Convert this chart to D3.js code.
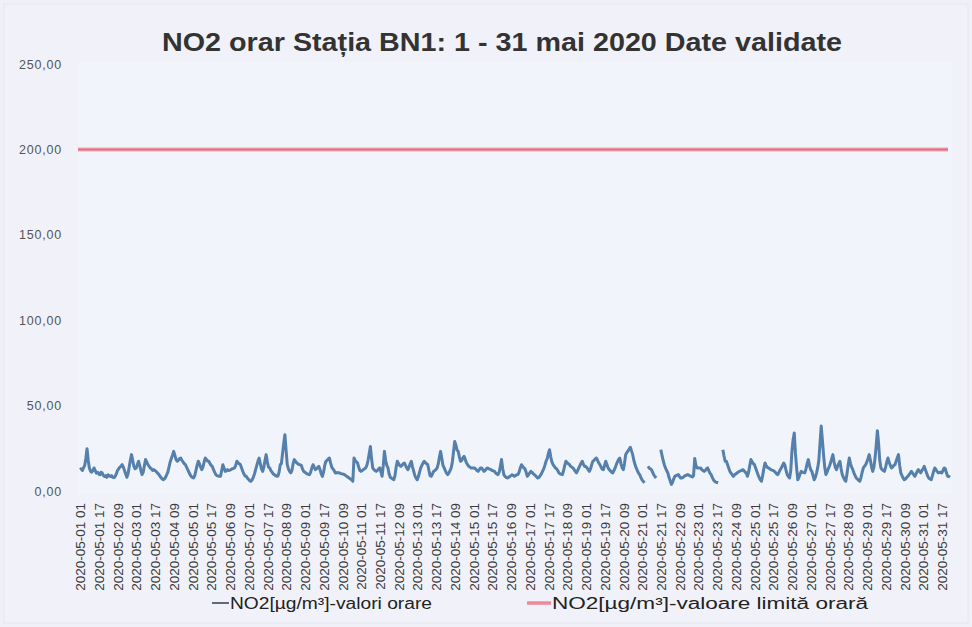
<!DOCTYPE html>
<html><head><meta charset="utf-8">
<script src="https://cdn.jsdelivr.net/npm/d3@7"></script>
<style>body{margin:0;background:#eff0f8;} svg{display:block}</style>
</head><body><svg id="c" width="972" height="627"></svg>
<script>
const chartTitle = "NO2 orar Stația BN1: 1 - 31 mai 2020 Date validate";
const seriesNames = ["NO2[µg/m³]-valori orare", "NO2[µg/m³]-valoare limită orară"];
const limitValue = 200;
const yTicks = [0, 50, 100, 150, 200, 250];
const tickLabels = [
"2020-05-01 01","2020-05-01 17","2020-05-02 09","2020-05-03 01","2020-05-03 17","2020-05-04 09",
"2020-05-05 01","2020-05-05 17","2020-05-06 09","2020-05-07 01","2020-05-07 17","2020-05-08 09",
"2020-05-09 01","2020-05-09 17","2020-05-10 09","2020-05-11 01","2020-05-11 17","2020-05-12 09",
"2020-05-13 01","2020-05-13 17","2020-05-14 09","2020-05-15 01","2020-05-15 17","2020-05-16 09",
"2020-05-17 01","2020-05-17 17","2020-05-18 09","2020-05-19 01","2020-05-19 17","2020-05-20 09",
"2020-05-21 01","2020-05-21 17","2020-05-22 09","2020-05-23 01","2020-05-23 17","2020-05-24 09",
"2020-05-25 01","2020-05-25 17","2020-05-26 09","2020-05-27 01","2020-05-27 17","2020-05-28 09",
"2020-05-29 01","2020-05-29 17","2020-05-30 09","2020-05-31 01","2020-05-31 17"];
const tickEvery = 16;
// hourly NO2 values, one row per day (hours 01..24), null = missing
const no2Values = [
12.5,13.0,12.0,13.5,15.0,19.0,24.8,18.0,13.5,11.5,11.0,12.0,13.5,12.0,10.5,11.0,10.0,9.5,11.0,10.5,9.0,8.5,9.0,8.0,
9.5,9.0,8.5,9.0,8.0,7.8,8.5,10.0,12.0,13.0,14.0,14.5,15.4,14.0,12.0,10.0,8.0,10.0,14.0,18.0,21.3,18.0,14.5,13.0,
13.5,15.5,17.4,15.0,12.0,9.6,11.0,15.0,18.4,17.0,15.5,14.5,13.5,13.0,12.0,12.5,12.0,11.5,10.6,10.0,9.0,8.0,7.2,6.6,
7.0,8.0,9.5,11.0,14.0,17.0,19.0,21.0,23.2,21.0,18.5,17.4,18.0,19.0,19.3,18.0,17.0,16.0,15.4,14.0,12.5,11.0,9.6,8.5,
8.0,7.6,9.0,12.0,15.0,17.4,16.0,14.0,12.5,14.0,17.0,19.3,18.5,17.5,17.4,16.0,15.0,14.4,12.5,11.0,9.6,9.0,8.8,8.6,
8.6,12.0,15.4,13.5,11.5,11.8,12.5,12.0,12.2,12.5,13.0,13.2,13.5,15.0,17.4,16.5,16.0,15.4,13.5,11.5,10.0,8.8,8.6,7.5,
6.8,6.0,5.7,6.5,8.0,10.0,12.5,15.0,17.5,19.3,16.0,13.0,11.5,14.0,18.0,21.3,17.0,14.0,13.5,12.0,11.0,10.0,9.6,9.0,
8.6,8.8,11.0,15.4,16.0,22.0,28.0,33.0,24.0,15.4,13.0,11.5,10.6,12.0,16.0,18.4,17.5,16.5,16.0,15.5,15.4,15.0,13.0,11.5,
11.0,10.5,10.0,9.8,9.6,11.0,13.5,15.4,14.0,12.5,13.0,13.8,14.4,12.5,10.0,8.6,11.0,15.0,17.4,18.0,18.8,19.3,16.5,14.0,
13.0,12.0,10.6,10.6,10.8,10.6,10.5,10.2,10.0,9.8,9.6,9.0,8.5,8.0,7.6,7.0,6.5,5.7,19.3,18.0,17.0,16.4,14.0,12.0,
11.5,12.0,12.5,13.0,13.5,15.0,18.0,22.0,26.1,19.0,13.5,12.5,12.0,11.5,12.0,13.0,13.5,11.0,8.6,15.0,23.2,18.0,15.0,13.5,
10.0,8.0,7.6,7.0,6.6,9.0,14.0,17.4,16.0,15.0,14.4,15.0,16.0,16.4,15.0,13.5,12.5,14.0,16.0,17.4,14.0,11.5,9.0,7.5,
6.6,8.5,11.0,13.5,15.0,16.5,17.4,16.5,16.0,15.4,12.0,9.0,8.6,10.0,11.5,12.0,12.5,13.5,16.0,20.0,23.2,19.0,15.0,13.5,
12.0,10.5,9.6,10.5,12.0,13.5,17.0,23.0,29.0,27.0,24.0,23.2,20.0,17.4,18.0,19.5,20.3,18.5,16.5,15.4,14.5,14.0,13.5,13.5,
13.5,13.5,12.8,12.0,11.5,12.5,13.5,13.5,12.5,11.5,12.0,13.0,13.5,13.0,12.8,12.5,12.0,11.8,11.5,10.5,10.0,9.6,11.0,14.5,
18.4,13.0,9.6,8.5,8.0,7.6,8.0,8.5,9.0,9.5,9.2,8.6,9.0,9.5,9.6,11.0,13.5,15.4,14.5,13.5,13.0,11.0,8.6,9.5,
10.5,11.5,11.0,10.2,9.6,9.0,8.2,7.6,8.0,9.0,10.0,11.5,13.0,15.0,17.4,19.0,22.0,24.2,20.0,17.0,15.4,14.5,13.5,13.0,
12.0,10.6,10.0,9.8,9.6,12.0,15.0,17.4,16.5,16.0,15.4,14.5,14.0,13.5,12.5,11.5,10.6,12.0,13.5,15.0,16.5,17.4,15.5,14.4,
14.4,13.5,12.5,11.5,13.0,15.5,17.4,18.0,18.8,19.3,18.0,16.5,15.4,14.0,12.8,12.5,15.0,17.4,15.5,13.5,12.5,11.8,11.0,10.6,
12.0,13.5,15.4,17.0,18.5,19.3,16.0,13.5,12.5,16.0,21.3,22.5,23.5,24.5,25.6,23.5,21.3,18.0,15.5,13.5,12.0,10.5,9.6,8.0,
6.5,5.7,4.8,null,null,14.4,13.5,13.0,12.5,11.0,9.5,8.5,7.6,null,null,null,24.2,21.0,18.0,15.4,13.5,12.0,10.6,8.0,
6.0,3.9,5.0,7.0,8.6,9.0,9.3,9.6,8.5,7.6,7.6,8.0,8.6,9.0,9.3,9.6,9.2,8.8,8.6,8.2,9.0,19.0,15.0,13.5,
13.5,13.5,13.5,12.5,12.0,11.5,12.0,13.0,13.5,12.0,10.5,9.6,8.0,6.5,5.7,5.2,5.0,4.8,null,null,null,24.2,20.5,17.4,
17.4,15.5,13.5,11.5,10.5,9.5,8.6,9.5,10.0,10.5,11.0,11.5,11.8,12.0,12.5,12.0,11.0,10.6,8.6,11.0,15.0,18.4,17.0,16.0,
15.4,13.5,11.5,9.6,8.0,6.5,5.7,9.0,13.0,16.4,15.0,13.8,13.5,13.0,12.5,12.2,12.0,11.5,10.8,10.0,9.6,11.0,12.5,13.5,
15.0,16.4,15.0,12.0,9.6,8.5,7.6,12.0,23.2,30.0,34.0,22.0,13.5,6.6,8.0,10.0,11.5,11.0,10.8,10.6,13.0,16.0,18.4,15.0,
12.5,11.5,9.0,6.6,8.0,10.5,13.5,18.0,28.0,38.0,30.0,21.3,14.0,9.6,11.0,13.0,14.4,16.5,19.0,21.3,17.0,14.0,12.5,14.5,
16.0,17.4,13.0,9.6,8.0,6.5,5.7,10.0,15.0,19.3,16.0,14.0,12.5,10.5,9.0,7.6,7.0,6.2,5.7,8.0,11.0,13.5,14.5,15.4,
17.0,19.0,21.3,18.0,14.0,11.5,14.0,19.3,27.0,35.3,28.0,18.0,13.5,12.5,12.0,11.5,14.0,17.0,19.3,17.0,15.0,13.5,14.0,15.0,
15.4,17.5,19.5,21.3,15.0,10.6,9.0,7.5,6.6,7.0,8.0,8.6,9.5,10.5,11.5,10.5,9.5,8.6,10.0,11.5,12.5,11.5,10.6,12.0,
13.0,14.4,12.5,10.5,8.6,7.5,7.0,6.6,9.0,11.5,13.5,12.5,11.5,10.6,10.8,11.0,10.6,12.0,13.5,13.0,10.5,8.6,8.5,8.0
];

const W = 972, H = 627;
const FONT = "Liberation Sans, Arial, sans-serif";
const svg = d3.select("#c");
svg.append("rect").attr("width", W).attr("height", H).attr("fill", "#eff0f8");
svg.append("rect").attr("x", 4).attr("y", 4).attr("width", W - 8).attr("height", H - 8)
  .attr("fill", "#f1f2f9").attr("stroke", "#e6e6f0");
svg.append("rect").attr("x", 78).attr("y", 62).attr("width", 874).attr("height", 432)
  .attr("fill", "#f2f4fb");

const n = no2Values.length;
const x = d3.scaleLinear().domain([0, n - 1]).range([80, 950]);
const y = d3.scaleLinear().domain([0, 250]).range([491, 64]);
const fmt = v => d3.format(".2f")(v).replace(".", ",");

svg.append("text").attr("x", 162).attr("y", 51)
  .attr("font-family", FONT).attr("font-weight", "bold")
  .attr("font-size", 25).attr("fill", "#333")
  .attr("textLength", 680).attr("lengthAdjust", "spacingAndGlyphs").text(chartTitle);

// y axis labels
const yAxis = d3.axisLeft(y).tickValues(yTicks).tickFormat(fmt).tickSize(0).tickPadding(0);
const gy = svg.append("g").attr("transform", "translate(62,0)").call(yAxis);
gy.select(".domain").remove();
gy.selectAll("text").attr("font-family", FONT)
  .attr("font-size", 12.5).attr("fill", "#555").attr("letter-spacing", "0.8px");

// x axis labels
const tickIdx = tickLabels.map((_, k) => k * tickEvery);
const xAxis = d3.axisBottom(x).tickValues(tickIdx).tickFormat((d, k) => tickLabels[k]).tickSize(0).tickPadding(0);
const gx = svg.append("g").attr("transform", "translate(0,500)").call(xAxis);
gx.select(".domain").remove();
gx.selectAll("text").attr("font-family", FONT)
  .attr("font-size", 13.5).attr("fill", "#3a3a3a")
  .attr("text-anchor", "end").attr("dy", "0.35em").attr("dx", 0)
  .attr("transform", "rotate(-90)").attr("y", 0).attr("x", -3);

// limit line
svg.append("line").attr("x1", x(0) - 2).attr("x2", x(n - 1) - 2)
  .attr("y1", y(limitValue)).attr("y2", y(limitValue))
  .attr("stroke", "#f08592").attr("stroke-width", 4.5).attr("opacity", 0.45);
svg.append("line").attr("x1", x(0) - 2).attr("x2", x(n - 1) - 2)
  .attr("y1", y(limitValue)).attr("y2", y(limitValue))
  .attr("stroke", "#ec6479").attr("stroke-width", 2);

// hourly line
const line = d3.line().defined(d => d != null).x((d, i) => x(i)).y(d => y(d));
svg.append("path").datum(no2Values).attr("d", line).attr("fill", "none")
  .attr("stroke", "#5480ab").attr("stroke-width", 3).attr("stroke-linejoin", "round");

// legend
const lg = svg.append("g").attr("font-family", FONT).attr("font-size", 16).attr("fill", "#222");
lg.append("line").attr("x1", 212).attr("x2", 229).attr("y1", 603).attr("y2", 603).attr("stroke", "#2f3b55").attr("stroke-width", 1.5);
lg.append("text").attr("x", 230).attr("y", 609).attr("textLength", 202).attr("lengthAdjust", "spacingAndGlyphs").text(seriesNames[0]);
lg.append("line").attr("x1", 527).attr("x2", 551).attr("y1", 603).attr("y2", 603).attr("stroke", "#f0879a").attr("stroke-width", 3.5);
lg.append("text").attr("x", 552).attr("y", 609).attr("textLength", 316).attr("lengthAdjust", "spacingAndGlyphs").text(seriesNames[1]);
</script></body></html>
